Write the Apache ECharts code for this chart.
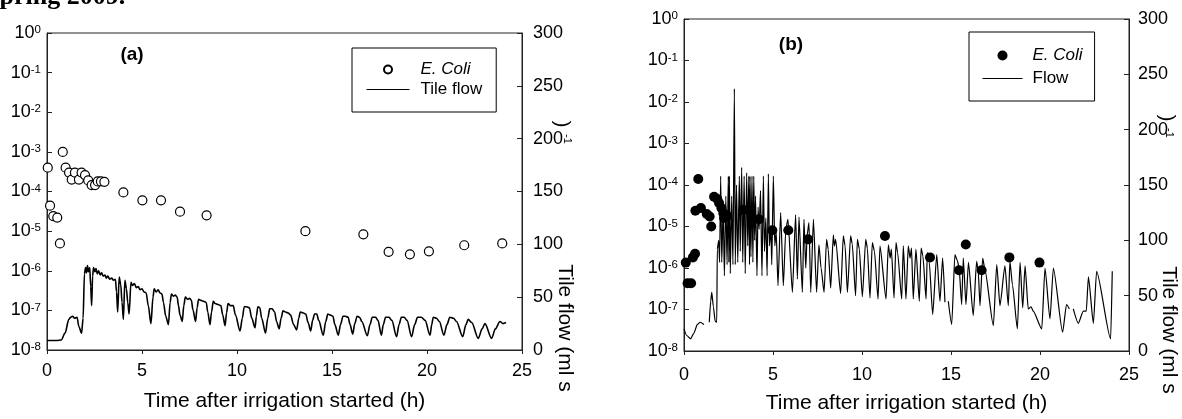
<!DOCTYPE html>
<html>
<head>
<meta charset="utf-8">
<script src="https://cdn.jsdelivr.net/npm/echarts@6/dist/echarts.min.js"></script>
<style>
html,body{margin:0;padding:0;background:#fff;}
#c{width:1182px;height:419px;}
</style>
</head>
<body>
<div id="c"></div>
<script>
// ---------- DATA ----------
// Panel (a): E. coli (relative concentration, log axis) vs time (h)
const ecoliA = [
  [0.04,4e-4],[0.16,4.4e-5],[0.33,2.4e-5],[0.54,2.2e-5],[0.68,4.9e-6],[0.83,1e-3],[0.98,4e-4],
  [1.16,3e-4],[1.3,2e-4],[1.47,3e-4],[1.68,2e-4],[1.82,3e-4],[2.0,2.6e-4],[2.17,1.9e-4],
  [2.35,1.45e-4],[2.53,1.45e-4],[2.67,1.8e-4],[2.84,1.8e-4],[3.02,1.75e-4],[4.02,9.5e-5],
  [5.02,6e-5],[6.0,6e-5],[7.0,3.1e-5],[8.4,2.5e-5],[13.6,1e-5],[16.65,8.3e-6],[17.98,3e-6],
  [19.1,2.6e-6],[20.1,3.1e-6],[21.96,4.4e-6],[23.96,4.9e-6]
];
// Panel (a): tile flow (ml/s) vs time (h)
const flowA = [
  [0,9],[0.5,9],[0.75,9.5],[0.95,16],[1.15,29],[1.25,31],[1.35,32],[1.45,30],[1.58,31],[1.68,22],[1.82,16],
  [1.9,30],[1.97,72],[2.03,78],[2.08,73],[2.13,80],[2.18,74],[2.25,78],[2.3,60],[2.35,42],[2.4,70],[2.45,78],
  [2.52,74],[2.58,77],[2.65,72],[2.72,75],[2.8,71],[2.88,73],[2.95,70],[3.05,71],[3.12,68],[3.2,70],[3.3,67],
  [3.4,68],[3.5,66],[3.6,67],[3.66,55],[3.72,36],[3.8,69],[3.88,62],[3.95,45],[4.02,29],[4.1,66],[4.18,58],
  [4.25,45],[4.32,34],[4.42,64],[4.5,61],[4.6,63],[4.7,59],[4.8,60],[4.9,57],[5.0,58],[5.1,55],[5.22,54],
  [5.33,42],[5.47,25],[5.58,50],[5.64,58],[5.75,55],[5.85,57],[5.95,54],[6.05,53],[6.13,45],[6.25,32],[6.39,24],
  [6.48,45],[6.55,53],[6.65,51],[6.75,52],[6.85,50],[6.92,42],[7.0,33],[7.12,27],[7.2,42],[7.28,50],[7.4,48],
  [7.5,49],[7.6,47],[7.68,38],[7.82,27],[7.9,40],[7.98,48],[8.1,47],[8.25,46],[8.38,45],[8.46,36],[8.58,24],
  [8.66,36],[8.75,46],[8.85,44],[9.0,43],[9.15,42],[9.25,33],[9.37,23],[9.45,35],[9.53,44],[9.65,42],[9.8,42],
  [9.92,33],[10.16,18],[10.28,30],[10.38,41],[10.5,41],[10.65,40],[10.78,30],[10.95,21],[11.02,32],[11.1,41],
  [11.2,40],[11.3,30],[11.5,16],[11.62,30],[11.72,39],[11.85,39],[11.98,36],[12.08,27],[12.22,20],[12.32,30],
  [12.42,37],[12.55,36],[12.7,35],[12.82,33],[12.98,24],[13.14,19],[13.25,30],[13.33,36],[13.5,35],[13.62,34],
  [13.74,26],[13.88,18],[13.98,28],[14.08,34],[14.2,34],[14.3,28],[14.54,14],[14.67,27],[14.78,34],[14.92,33],
  [15.05,32],[15.15,24],[15.33,14],[15.45,24],[15.58,32],[15.7,32],[15.85,31],[15.95,24],[16.09,15],[16.2,25],
  [16.32,32],[16.45,31],[16.57,27],[16.86,13.5],[17.0,24],[17.12,31],[17.3,31],[17.42,28],[17.6,14],[17.7,24],
  [17.82,31],[18.0,31],[18.15,28],[18.4,12.6],[18.53,24],[18.65,31],[18.8,31],[18.95,28],[19.19,12.6],[19.35,24],
  [19.5,31],[19.7,31],[19.9,28],[20.16,14],[20.25,24],[20.33,31],[20.5,30],[20.65,27],[20.89,14],[21.05,24],
  [21.2,31],[21.4,30],[21.55,27],[21.88,12.6],[22.05,24],[22.17,29],[22.35,26],[22.7,11],[22.9,20],[23.05,25],
  [23.4,11],[23.6,20],[23.84,27],[24.0,25],[24.16,26]
];
// Panel (b): E. coli vs time (h)
const ecoliB = [
  [0.1,1.35e-6],[0.2,4.3e-7],[0.4,4.3e-7],[0.5,1.8e-6],[0.62,2.2e-6],[0.64,2.4e-5],[0.8,1.4e-4],
  [0.95,2.8e-5],[1.28,2e-5],[1.44,1.75e-5],[1.53,1e-5],[1.69,5.2e-5],[1.87,4.6e-5],[1.97,3.7e-5],
  [2.1,2.8e-5],[2.21,2.1e-5],[2.25,1.6e-5],[2.43,1.8e-5],[3.33,2.5e-5],[4.21,1.5e-5],[4.96,8.1e-6],
  [5.86,8.1e-6],[6.97,4.9e-6],[11.29,5.9e-6],[13.82,1.8e-6],[15.45,8.8e-7],[15.83,3.7e-6],
  [16.72,8.8e-7],[18.28,1.8e-6],[19.97,1.35e-6]
];
// Panel (b): flow (ml/s) vs time (h); null = gap in record
const flowB = [
  [0,20],[0.15,14],[0.37,11],[0.55,16],[0.75,24],[0.9,26],[1.12,24],[1.2,null],
  [1.42,26],[1.5,45],[1.56,53],[1.65,40],[1.75,27],[1.84,26],[1.87,92],[1.95,100],[2.0,80],[2.06,158],
  [2.12,80],[2.2,130],[2.27,68],[2.35,140],[2.42,78],[2.49,158],[2.52,80],[2.55,158],[2.6,70],[2.68,140],
  [2.75,78],[2.83,237],[2.88,78],[2.95,150],[3.02,80],[3.11,158],[3.16,90],[3.24,166],[3.3,80],[3.38,158],
  [3.44,70],[3.52,161],[3.58,95],[3.64,158],[3.68,78],[3.71,158],[3.76,85],[3.82,158],[3.87,80],[3.92,158],
  [3.97,100],[4.02,140],[4.1,68],[4.16,130],[4.22,110],[4.3,145],[4.38,68],[4.46,158],[4.52,90],[4.6,120],
  [4.67,68],[4.74,160],[4.8,95],[4.88,112],[4.93,78],[5.02,158],[5.1,95],[5.18,108],[5.28,59],[5.43,125],
  [5.58,59],[5.72,110],[5.84,119],[6.09,53],[6.27,123],[6.37,65],[6.46,121],[6.65,53],[6.74,119],[6.84,75],
  [6.92,105],[7.02,116],[7.12,53],[7.27,119],[7.45,53],[7.58,96],[7.7,75],[7.87,53],[8.01,101],[8.1,92],
  [8.24,57],[8.39,105],[8.45,95],[8.52,101],[8.8,52],[8.95,104],[9.05,95],[9.18,53],[9.36,104],[9.45,97],
  [9.64,50],[9.74,101],[9.85,92],[10.02,49],[10.21,101],[10.3,93],[10.45,48],[10.58,98],[10.7,90],[10.9,47],
  [11.01,95],[11.35,47],[11.48,96],[11.58,84],[11.65,92],[11.8,48],[11.91,98],[12.0,89],[12.23,47],[12.32,95],
  [12.47,47],[12.6,95],[12.7,84],[12.78,93],[12.88,47],[13.03,92],[13.22,45],[13.32,93],[13.42,86],[13.6,47],
  [13.67,89],[13.78,80],[13.97,33],[14.2,87],[14.38,45],[14.53,84],[14.66,44],[14.72,null],[14.85,45],
  [15.04,24],[15.22,87],[15.35,82],[15.45,76],[15.6,42],[15.69,84],[15.84,42],[15.98,80],[16.25,32],
  [16.44,81],[16.53,72],[16.63,41],[16.78,84],[16.9,74],[17.38,23],[17.57,78],[17.75,41],[18.03,77],
  [18.22,41],[18.31,81],[18.45,60],[18.73,20],[18.88,80],[19.03,39],[19.16,77],[19.34,38],[19.5,40],
  [19.62,36],[20.1,20],[20.28,75],[20.56,29],[20.75,75],[21.27,17],[21.49,42],[21.65,38],[21.75,null],
  [21.87,38],[22.15,25],[22.43,36],[22.6,36],[22.72,67],[23.0,25],[23.18,72],[23.97,11],[24.06,72]
];
const xTitle = 'Time after irrigation started (h)';
const yRightTitle = 'Tile flow (ml s';

// ---------- CHART ----------
const FF = 'Liberation Sans, Arial, Helvetica, sans-serif';
const AX = '#222';
const chart = echarts.init(document.getElementById('c'), null, {renderer:'canvas'});

function logAxis(grid){
  return {
    gridIndex:grid, type:'log', logBase:10, min:1e-8, max:1, splitNumber:8,
    axisLine:{show:true, lineStyle:{color:AX, width:1}},
    axisTick:{show:true, inside:true, length:5, lineStyle:{color:AX}},
    minorTick:{show:false}, splitLine:{show:false},
    axisLabel:{
      margin:6, color:'#000',
      formatter:v => '{b|10}{s|' + Math.round(Math.log10(v)) + '}',
      rich:{
        b:{fontSize:18, fontFamily:FF, color:'#000', lineHeight:18},
        s:{fontSize:11.5, fontFamily:FF, color:'#000', lineHeight:11, verticalAlign:'top'}
      }
    }
  };
}
function flowAxis(grid, margin){
  return {
    gridIndex:grid, type:'value', position:'right', min:0, max:300, interval:50,
    axisLine:{show:true, lineStyle:{color:AX, width:1}},
    axisTick:{show:true, inside:true, length:5, lineStyle:{color:AX}},
    splitLine:{show:false},
    axisLabel:{margin:margin, fontSize:18, fontFamily:FF, color:'#000'}
  };
}
function timeAxis(grid, gap, margin){
  return {
    gridIndex:grid, type:'value', min:0, max:25, interval:5,
    axisLine:{show:true, onZero:false, lineStyle:{color:AX, width:1}},
    axisTick:{show:true, inside:false, length:4, lineStyle:{color:AX}},
    splitLine:{show:false},
    axisLabel:{margin:margin, fontSize:18, fontFamily:FF, color:'#000'},
    name:xTitle, nameLocation:'middle', nameGap:gap,
    nameTextStyle:{fontSize:21, fontFamily:FF, color:'#000'}
  };
}
const legendFmt = n => n.indexOf('E. Coli') === 0 ? '{i|E. Coli}' : '{t|' + n + '}';
const noDot = {color:'rgba(0,0,0,0)', borderColor:'rgba(0,0,0,0)', borderWidth:0, opacity:0};

const option = {
  animation:false,
  backgroundColor:'#fff',
  textStyle:{fontFamily:FF},
  grid:[
    {left:47, top:33, width:475, height:317, show:true, borderColor:AX, borderWidth:1, backgroundColor:'transparent'},
    {left:684, top:19, width:445, height:333, show:true, borderColor:AX, borderWidth:1, backgroundColor:'transparent'}
  ],
  xAxis:[timeAxis(0, 41, 12), timeAxis(1, 42, 15)],
  yAxis:[logAxis(0), flowAxis(0, 11), logAxis(1), flowAxis(1, 9)],
  legend:[
    {
      data:['E. Coli', {name:'Tile flow', itemStyle:noDot}], left:352, top:48, orient:'vertical',
      padding:[13,14,14,14], itemGap:3, itemWidth:43, itemHeight:8,
      borderColor:'#000', borderWidth:1, selectedMode:false,
      lineStyle:{width:1, color:'#000'},
      formatter:legendFmt,
      textStyle:{fontSize:17, color:'#000', fontFamily:FF,
        rich:{i:{fontStyle:'italic', fontSize:17, fontFamily:FF, padding:[0,0,0,6]},
              t:{fontSize:17, fontFamily:FF, padding:[0,0,0,6]}}}
    },
    {
      data:['E. Coli (b)', {name:'Flow', itemStyle:noDot}], left:969, top:32, orient:'vertical',
      padding:[15,12,14,13], itemGap:6, itemWidth:40, itemHeight:10,
      borderColor:'#000', borderWidth:1, selectedMode:false,
      lineStyle:{width:1, color:'#000'},
      formatter:legendFmt,
      textStyle:{fontSize:17, color:'#000', fontFamily:FF,
        rich:{i:{fontStyle:'italic', fontSize:17, fontFamily:FF, padding:[0,0,0,5]},
              t:{fontSize:17, fontFamily:FF, padding:[0,0,0,5]}}}
    }
  ],
  series:[
    {name:'Tile flow', type:'line', xAxisIndex:0, yAxisIndex:1, data:flowA, symbol:'none',
     smooth:0.3, smoothMonotone:'x', lineStyle:{color:'#000', width:1.6}, itemStyle:{color:'#000'}, z:2},
    {name:'E. Coli', type:'scatter', xAxisIndex:0, yAxisIndex:0, data:ecoliA, symbol:'circle', symbolSize:9,
     itemStyle:{color:'#fff', borderColor:'#000', borderWidth:1.2, opacity:1}, z:3},
    {name:'Flow', type:'line', xAxisIndex:1, yAxisIndex:3, data:flowB, symbol:'none',
     smooth:0.2, smoothMonotone:'x', connectNulls:false, lineStyle:{color:'#000', width:1.2}, itemStyle:{color:'#000'}, z:2},
    {name:'E. Coli (b)', type:'scatter', xAxisIndex:1, yAxisIndex:2, data:ecoliB, symbol:'circle', symbolSize:10,
     itemStyle:{color:'#000', borderColor:'#000', borderWidth:0, opacity:1}, z:3}
  ],
  graphic:[
    {type:'text', x:-15, y:-3, style:{text:'Spring 2009.', font:'bold 26px "Liberation Serif", "Times New Roman", serif', fill:'#000', align:'left', verticalAlign:'middle'}},
    {type:'text', x:132, y:55, style:{text:'(a)', font:'bold 19px ' + FF, fill:'#000', align:'center', verticalAlign:'middle'}},
    {type:'text', x:791, y:45, style:{text:'(b)', font:'bold 19px ' + FF, fill:'#000', align:'center', verticalAlign:'middle'}},
    {type:'text', x:565, y:328, rotation:-Math.PI/2, style:{text:yRightTitle, font:'21px ' + FF, fill:'#000', align:'center', verticalAlign:'middle'}},
    {type:'text', x:562, y:124, rotation:-Math.PI/2, style:{text:')', font:'21px ' + FF, fill:'#000', align:'center', verticalAlign:'middle'}},
    {type:'text', x:567, y:139, rotation:-Math.PI/2, style:{text:'-1', font:'11px ' + FF, fill:'#000', align:'center', verticalAlign:'middle'}},
    {type:'text', x:1169, y:330, rotation:-Math.PI/2, style:{text:yRightTitle, font:'21px ' + FF, fill:'#000', align:'center', verticalAlign:'middle'}},
    {type:'text', x:1167, y:118, rotation:-Math.PI/2, style:{text:')', font:'21px ' + FF, fill:'#000', align:'center', verticalAlign:'middle'}},
    {type:'text', x:1169, y:133, rotation:-Math.PI/2, style:{text:'-1', font:'11px ' + FF, fill:'#000', align:'center', verticalAlign:'middle'}}
  ]
};
chart.setOption(option);
</script>
</body>
</html>
